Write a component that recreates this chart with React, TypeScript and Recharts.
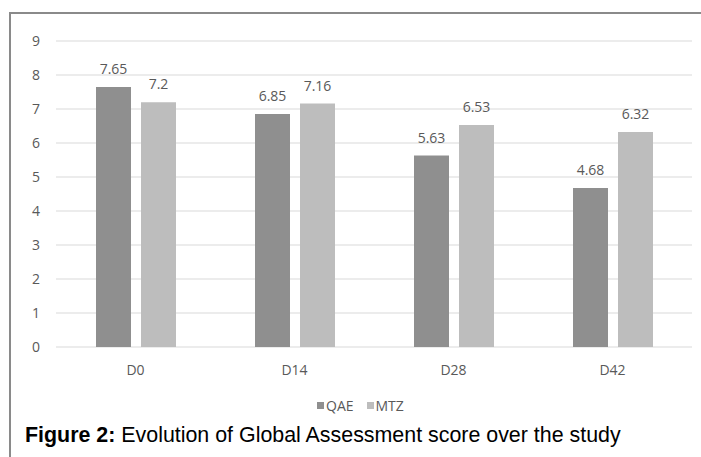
import { BarChart, Bar, XAxis, YAxis, CartesianGrid, Legend, LabelList } from 'recharts';

const days = ['D0', 'D14', 'D28', 'D42'];
const qae = [7.65, 6.85, 5.63, 4.68];
const mtz = [7.2, 7.16, 6.53, 6.32];
const yTicks = [0, 1, 2, 3, 4, 5, 6, 7, 8, 9];
const seriesNames = ['QAE', 'MTZ'];
const seriesColors = ['#8f8f8f', '#bdbdbd'];

const data = days.map((d, i) => ({ day: d, QAE: qae[i], MTZ: mtz[i] }));

const FONT = '"Open Sans", sans-serif';
const TEXT = '#595959';

function LegendBox() {
  return (
    <div style={{ height: 33, display: 'flex', alignItems: 'center', paddingLeft: 317, paddingTop: 4, boxSizing: 'border-box', fontFamily: FONT, fontSize: 14, color: TEXT }}>
      {seriesNames.map((name, i) => (
        <span key={name} style={{ display: 'flex', alignItems: 'center', marginRight: 13 }}>
          <span style={{ width: 7, height: 7, background: seriesColors[i], marginRight: 2, display: 'inline-block' }} />
          {name}
        </span>
      ))}
    </div>
  );
}

export default function App() {
  return (
    <div style={{ position: 'fixed', left: 0, top: 0, width: 701, height: 457, background: '#fff', overflow: 'hidden' }}>
      <div style={{ position: 'absolute', left: 9, top: 12, right: 0, bottom: 0, borderLeft: '2px solid #8a8a8a', borderTop: '2px solid #8a8a8a' }} />
      <div style={{ position: 'absolute', left: 0, top: 0 }}>
        <BarChart width={701} height={420} data={data} margin={{ top: 41, right: 9, bottom: 0, left: 0 }} barSize={35} barGap={10}>
          <CartesianGrid vertical={false} stroke="#d9d9d9" strokeWidth={1} />
          <XAxis
            dataKey="day"
            axisLine={false}
            tickLine={false}
            height={40}
            tickMargin={12}
            tick={{ fontSize: 14, fill: TEXT, fontFamily: FONT }}
          />
          <YAxis
            domain={[0, 9]}
            ticks={yTicks}
            width={56}
            axisLine={false}
            tickLine={false}
            tickMargin={10}
            interval={0}
            tick={{ fontSize: 14, fill: TEXT, fontFamily: FONT }}
          />
          <Legend verticalAlign="bottom" height={33} content={<LegendBox />} wrapperStyle={{ left: 0, width: 701 }} />
          <Bar dataKey="QAE" fill={seriesColors[0]} isAnimationActive={false}>
            <LabelList dataKey="QAE" position="top" offset={13} style={{ fontSize: 14, fill: TEXT, fontFamily: FONT }} />
          </Bar>
          <Bar dataKey="MTZ" fill={seriesColors[1]} isAnimationActive={false}>
            <LabelList dataKey="MTZ" position="top" offset={13} style={{ fontSize: 14, fill: TEXT, fontFamily: FONT }} />
          </Bar>
        </BarChart>
      </div>
      <div style={{ position: 'absolute', left: 25, top: 423, fontFamily: '"Liberation Sans", Arial, sans-serif', fontSize: 21.4, lineHeight: '24px', color: '#000', whiteSpace: 'nowrap' }}>
        <b>Figure 2:</b> Evolution of Global Assessment score over the study
      </div>
    </div>
  );
}
